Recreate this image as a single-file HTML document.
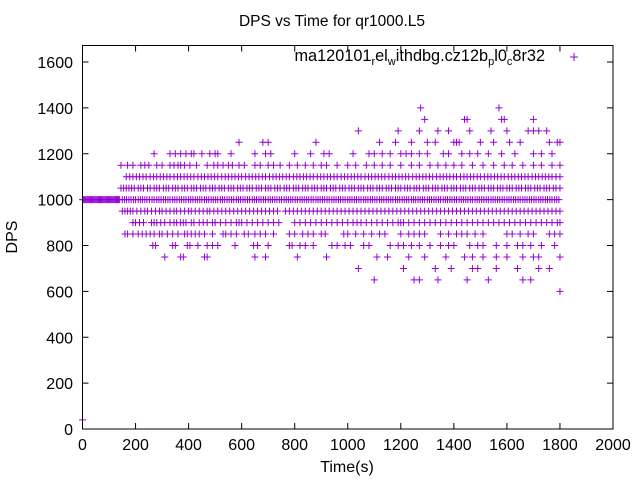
<!DOCTYPE html>
<html><head><meta charset="utf-8">
<style>
html,body{margin:0;padding:0;background:#fff;}
svg{display:block;font-family:"Liberation Sans",sans-serif;}
</style></head>
<body>
<svg id="chart" width="640" height="480" viewBox="0 0 640 480" xmlns="http://www.w3.org/2000/svg">
<rect x="0" y="0" width="640" height="480" fill="#fff"/>
<text x="332" y="26" text-anchor="middle" font-size="15.5">DPS vs Time for qr1000.L5</text>
<g id="xticks"></g>
<g id="yticks"></g>
<g id="points"></g>
<rect x="82.5" y="45.5" width="530.5" height="383.5" fill="none" stroke="#000" stroke-width="1"/>
<text x="545" y="61" text-anchor="end" font-size="16.3">ma120101<tspan font-size="11" dy="4">r</tspan><tspan dy="-4">el</tspan><tspan font-size="11" dy="4">w</tspan><tspan dy="-4">ithdbg.cz12b</tspan><tspan font-size="11" dy="4">p</tspan><tspan dy="-4">l0</tspan><tspan font-size="11" dy="4">c</tspan><tspan dy="-4">8r32</tspan></text>
<g stroke="#9400d3" stroke-width="1"><line x1="570" y1="57" x2="578" y2="57"/><line x1="574" y1="53" x2="574" y2="61"/></g>
<text x="347" y="472" text-anchor="middle" font-size="16">Time(s)</text>
<text x="0" y="0" transform="translate(17,237) rotate(-90)" text-anchor="middle" font-size="16">DPS</text>
</svg>
<script>
const xTicks=[0,200,400,600,800,1000,1200,1400,1600,1800,2000];
const yTicks=[0,200,400,600,800,1000,1200,1400,1600];
const levels=[40,600,650,700,750,800,850,900,950,1000,1050,1100,1150,1200,1250,1300,1350,1400];
const x40=[0];
const x600=[1800];
const x650=[1100,1250,1270,1340,1450,1530,1660,1690];
const x700=[1040,1210,1330,1390,1470,1490,1560,1640,1720,1760];
const x750=[310,370,380,460,470,650,690,810,920,1110,1150,1230,1290,1370,1440,1470,1510,1560,1600,1660,1700,1720,1800];
const x800=[265,275,340,350,395,405,435,470,490,510,575,645,660,700,780,790,820,840,870,940,960,990,1010,1060,1080,1160,1190,1210,1240,1270,1310,1350,1380,1400,1460,1490,1510,1560,1600,1640,1660,1690,1730,1780];
const x850=[160,170,190,210,225,240,255,270,290,300,320,340,360,385,395,410,425,440,460,490,530,540,560,580,610,625,650,670,690,720,780,800,830,850,870,900,915,985,1000,1030,1060,1090,1120,1140,1200,1230,1250,1270,1290,1350,1380,1410,1430,1450,1480,1510,1600,1620,1650,1680,1700,1760,1780,1800];
const x900=[190,200,215,230,260,270,280,295,310,330,345,355,370,380,390,410,420,440,455,470,490,500,520,540,560,580,590,600,620,640,660,680,700,720,740,800,820,840,860,880,900,920,940,960,980,1000,1020,1035,1050,1070,1090,1110,1130,1150,1170,1190,1200,1210,1230,1250,1270,1290,1310,1330,1350,1370,1390,1410,1430,1450,1470,1490,1510,1530,1550,1570,1590,1610,1630,1650,1670,1690,1710,1730,1750,1770,1790,1800];
const x950=[150,160,170,180,190,205,220,235,245,260,275,290,300,315,330,345,355,370,385,400,410,425,440,455,470,480,495,510,525,540,555,570,585,600,615,630,645,660,675,690,705,720,735,765,780,795,810,825,840,855,870,885,900,915,930,945,960,975,990,1005,1020,1035,1050,1065,1080,1095,1110,1125,1140,1155,1170,1185,1200,1215,1230,1245,1260,1275,1290,1305,1320,1335,1350,1365,1380,1395,1410,1425,1440,1455,1470,1485,1500,1515,1530,1545,1560,1575,1590,1605,1620,1635,1650,1665,1680,1695,1710,1725,1740,1755,1770,1785,1800];
const x1000=[0,4,8,12,16,20,24,28,32,36,40,44,48,52,56,60,64,68,72,76,80,84,88,92,96,100,104,108,112,116,120,124,128,132,136,140,150,158,166,175,183,192,200,210,218,226,235,243,252,262,270,280,288,296,305,313,322,330,340,348,356,365,373,382,390,400,408,416,425,433,442,450,460,468,476,485,493,502,510,520,528,536,545,553,562,570,580,588,596,605,613,622,630,640,648,656,665,673,682,690,700,708,716,725,733,742,750,760,768,776,785,793,802,810,820,828,836,845,853,862,870,880,888,896,905,913,922,930,940,948,956,965,973,982,990,1000,1008,1016,1025,1033,1042,1050,1060,1068,1076,1085,1093,1102,1110,1120,1128,1136,1145,1153,1162,1170,1180,1188,1196,1205,1213,1222,1230,1240,1248,1256,1265,1273,1282,1290,1300,1308,1316,1325,1333,1342,1350,1360,1368,1376,1385,1393,1402,1410,1420,1428,1436,1445,1453,1462,1470,1480,1488,1496,1505,1513,1522,1530,1540,1548,1556,1565,1573,1582,1590,1600,1608,1616,1625,1633,1642,1650,1660,1668,1676,1685,1693,1702,1710,1720,1728,1736,1745,1753,1762,1770,1780,1788,1796];
const x1050=[145,155,165,175,185,195,210,220,230,245,255,270,280,290,305,315,325,340,350,360,375,385,395,410,420,430,445,455,465,480,490,500,515,525,535,550,560,570,585,595,605,620,630,640,655,665,675,690,700,710,725,735,745,760,770,780,795,805,815,830,840,850,865,875,885,900,910,920,935,945,955,970,980,990,1005,1015,1025,1040,1050,1060,1075,1085,1095,1110,1120,1130,1145,1155,1165,1180,1190,1200,1215,1225,1235,1250,1260,1270,1285,1295,1305,1320,1330,1340,1355,1365,1375,1390,1400,1410,1425,1435,1445,1460,1470,1480,1495,1505,1515,1530,1540,1550,1565,1575,1585,1600,1610,1620,1635,1645,1655,1670,1680,1690,1705,1715,1725,1740,1750,1760,1775,1785,1800];
const x1100=[165,178,190,203,215,228,240,255,268,280,293,305,318,330,345,358,370,383,395,408,420,435,448,460,473,485,498,510,525,538,550,563,575,588,600,615,628,640,653,665,678,690,705,718,730,743,755,768,780,795,808,820,833,845,858,870,885,898,910,923,935,948,960,975,988,1000,1013,1025,1038,1050,1065,1078,1090,1103,1115,1128,1140,1155,1168,1180,1193,1205,1218,1230,1245,1258,1270,1283,1295,1308,1320,1335,1348,1360,1373,1385,1398,1410,1425,1438,1450,1463,1475,1488,1500,1515,1528,1540,1553,1565,1578,1590,1605,1618,1630,1643,1655,1668,1680,1695,1708,1720,1733,1745,1758,1770,1785,1800];
const x1150=[145,170,190,220,235,250,280,300,330,345,360,370,385,405,430,470,495,510,530,550,565,590,610,650,670,700,720,745,780,810,840,870,900,920,960,1000,1030,1070,1100,1130,1160,1200,1240,1270,1310,1340,1370,1400,1430,1470,1510,1550,1590,1620,1660,1700,1730,1770,1800];
const x1200=[270,330,350,370,390,410,420,450,480,500,510,560,650,690,710,800,860,910,930,1020,1080,1100,1130,1160,1200,1220,1240,1270,1300,1360,1380,1430,1460,1490,1530,1580,1630,1700,1730,1770];
const x1250=[590,680,700,880,1120,1180,1240,1300,1330,1400,1410,1420,1500,1550,1610,1650,1760,1790,1800];
const x1300=[1040,1190,1270,1340,1380,1460,1540,1600,1680,1700,1720,1750];
const x1350=[1290,1440,1450,1580,1590,1700];
const x1400=[1275,1570];
const levelX=[x40,x600,x650,x700,x750,x800,x850,x900,x950,x1000,x1050,x1100,x1150,x1200,x1250,x1300,x1350,x1400];

const NS="http://www.w3.org/2000/svg";
const X0=82.5,X1=613,Y0=429,Ymax1600=62;
function sx(v){return X0+(X1-X0)*v/2000;}
function sy(v){return Y0-(Y0-Ymax1600)*v/1600;}
const xg=document.getElementById('xticks'),yg=document.getElementById('yticks'),pg=document.getElementById('points');
xTicks.forEach(t=>{
  const l=document.createElementNS(NS,'path');
  l.setAttribute('d',`M${sx(t)},429V423M${sx(t)},45.5V51.5`);
  l.setAttribute('stroke','#000');
  
  
  xg.appendChild(l);
  const tx=document.createElementNS(NS,'text');
  tx.setAttribute('x',sx(t));tx.setAttribute('y',450);
  tx.setAttribute('text-anchor','middle');tx.setAttribute('font-size','16');
  tx.textContent=t;
  
  
  xg.appendChild(tx);
});
yTicks.forEach(t=>{
  const l=document.createElementNS(NS,'path');
  l.setAttribute('d',`M82.5,${sy(t)}H88.5M613,${sy(t)}H607`);
  l.setAttribute('stroke','#000');
  
  
  yg.appendChild(l);
  const tx=document.createElementNS(NS,'text');
  tx.setAttribute('x',73);tx.setAttribute('y',sy(t)+6);
  tx.setAttribute('text-anchor','end');tx.setAttribute('font-size','16');
  tx.textContent=t;
  
  
  yg.appendChild(tx);
});
levels.forEach((lv,i)=>{
  levelX[i].forEach(xv=>{
    const p=document.createElementNS(NS,'path');
    const cx=sx(xv),cy=sy(lv);
    p.setAttribute('d',`M${cx-3.5},${cy}H${cx+3.5}M${cx},${cy-3.5}V${cy+3.5}`);
    p.setAttribute('stroke','#9400d3');
    p.setAttribute('stroke-width','1');
    
    
    pg.appendChild(p);
  });
});
</script>
</body></html>
